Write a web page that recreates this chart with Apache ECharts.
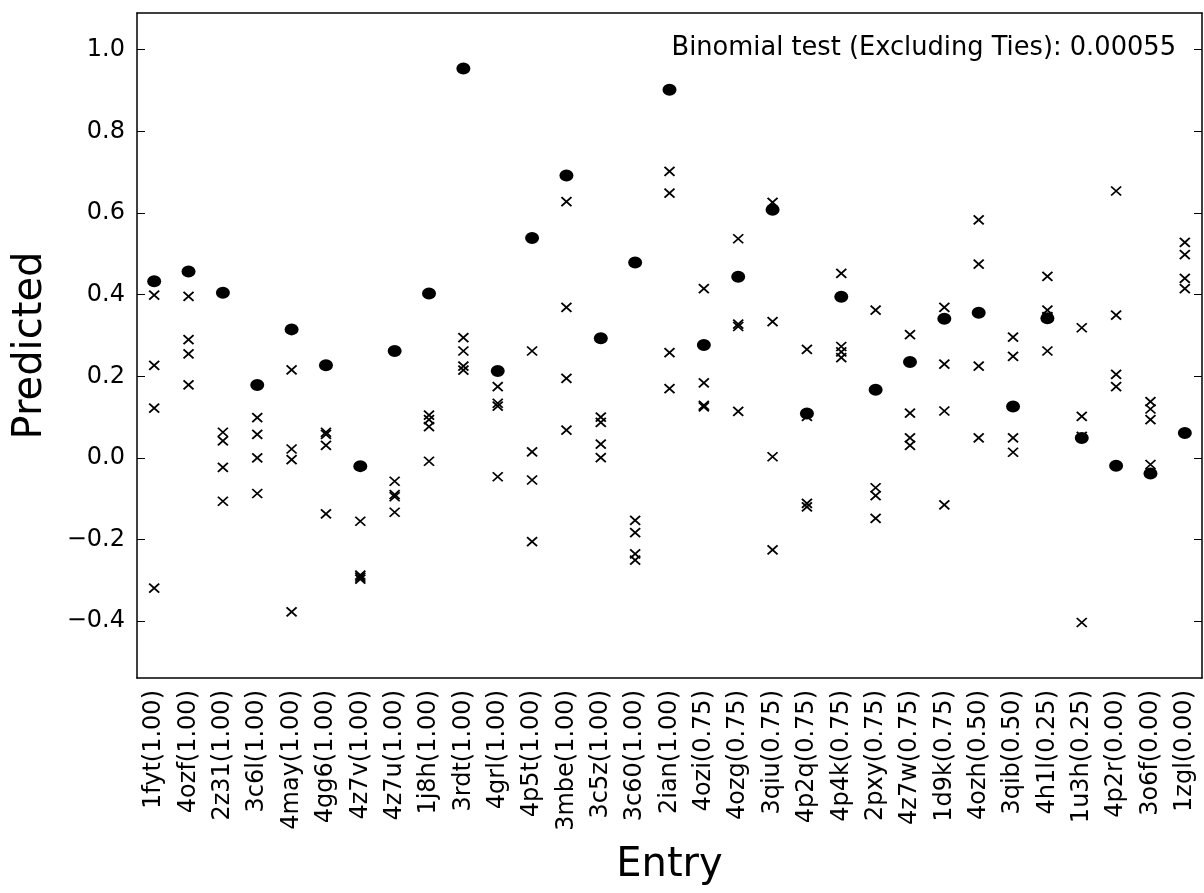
<!DOCTYPE html>
<html>
<head>
<meta charset="utf-8">
<title>Predicted per entry</title>
<script src="https://cdn.jsdelivr.net/npm/echarts@6/dist/echarts.min.js"></script>
<style>
  html, body { margin: 0; padding: 0; background: #fff; }
  #chart { width: 1204px; height: 893px; }
</style>
</head>
<body>
<div id="chart"></div>
<script>
const entries = [
  '1fyt(1.00)', '4ozf(1.00)', '2z31(1.00)', '3c6l(1.00)', '4may(1.00)', '4gg6(1.00)',
  '4z7v(1.00)', '4z7u(1.00)', '1j8h(1.00)', '3rdt(1.00)', '4grl(1.00)', '4p5t(1.00)',
  '3mbe(1.00)', '3c5z(1.00)', '3c60(1.00)', '2ian(1.00)', '4ozi(0.75)', '4ozg(0.75)',
  '3qiu(0.75)', '4p2q(0.75)', '4p4k(0.75)', '2pxy(0.75)', '4z7w(0.75)', '1d9k(0.75)',
  '4ozh(0.50)', '3qib(0.50)', '4h1l(0.25)', '1u3h(0.25)', '4p2r(0.00)', '3o6f(0.00)',
  '1zgl(0.00)'
];

// filled dots
const reference = [
  0.433, 0.457, 0.405, 0.179, 0.315, 0.227, -0.020, 0.262, 0.403, 0.954, 0.213, 0.539,
  0.692, 0.293, 0.479, 0.902, 0.277, 0.444, 0.608, 0.109, 0.395, 0.167, 0.235, 0.341,
  0.356, 0.126, 0.342, 0.049, -0.019, -0.038, 0.061
];

// the four crosses of each entry, highest to lowest
const crossA = [
  0.399, 0.396, 0.063, 0.099, 0.216, 0.063, -0.155, -0.057, 0.105, 0.295, 0.175, 0.262,
  0.628, 0.100, -0.153, 0.702, 0.415, 0.537, 0.626, 0.266, 0.452, 0.362, 0.302, 0.369,
  0.583, 0.296, 0.445, 0.319, 0.654, 0.138, 0.528
];
const crossB = [
  0.227, 0.290, 0.042, 0.058, 0.022, 0.058, -0.287, -0.090, 0.094, 0.262, 0.134, 0.015,
  0.369, 0.087, -0.183, 0.649, 0.184, 0.328, 0.334, 0.102, 0.273, -0.073, 0.110, 0.230,
  0.475, 0.249, 0.362, 0.102, 0.350, 0.120, 0.498
];
const crossC = [
  0.122, 0.255, -0.023, 0.000, -0.004, 0.031, -0.292, -0.095, 0.077, 0.225, 0.127, -0.054,
  0.195, 0.034, -0.235, 0.258, 0.129, 0.322, 0.003, -0.111, 0.260, -0.092, 0.049, 0.115,
  0.225, 0.049, 0.346, 0.053, 0.205, 0.094, 0.440
];
const crossD = [
  -0.319, 0.179, -0.106, -0.087, -0.377, -0.137, -0.297, -0.133, -0.008, 0.215, -0.046, -0.205,
  0.068, 0.001, -0.250, 0.170, 0.125, 0.114, -0.225, -0.120, 0.246, -0.148, 0.031, -0.115,
  0.049, 0.014, 0.262, -0.403, 0.175, -0.016, 0.415
];

const yTicks = [-0.4, -0.2, 0.0, 0.2, 0.4, 0.6, 0.8, 1.0];
const yMin = -0.539;
const yMax = 1.09;
const note = 'Binomial test (Excluding Ties): 0.00055';

const crossPoints = [];
entries.forEach((e, i) => {
  [crossA, crossB, crossC, crossD].forEach(arr => crossPoints.push([i, arr[i]]));
});

const font = 'DejaVu Sans';
const fmt = v => (v < 0 ? '\u2212' : '') + Math.abs(v).toFixed(1);

const myChart = echarts.init(document.getElementById('chart'));
const option = {
  animation: false,
  backgroundColor: '#fff',
  grid: { left: 137, right: 2, top: 13, bottom: 215 },
  graphic: [{
    type: 'text',
    x: 1176,
    y: 48,
    style: {
      text: note,
      align: 'right',
      verticalAlign: 'middle',
      fontFamily: font,
      fontSize: 25.7,
      fill: '#000'
    }
  }],
  xAxis: [{
    type: 'category',
    data: entries,
    name: 'Entry',
    nameLocation: 'middle',
    nameGap: 168,
    nameTextStyle: { fontFamily: font, fontSize: 40, color: '#000' },
    axisLine: { onZero: false, lineStyle: { color: '#000', width: 1.5 } },
    axisTick: { inside: true, alignWithLabel: true, length: 8, lineStyle: { color: '#000', width: 1 } },
    axisLabel: { rotate: 90, interval: 0, margin: 12, fontFamily: font, fontSize: 24, color: '#000' },
    splitLine: { show: false }
  }, {
    type: 'category',
    data: entries,
    position: 'top',
    axisLine: { onZero: false, lineStyle: { color: '#000', width: 1.5 } },
    axisTick: { inside: true, alignWithLabel: true, length: 8, lineStyle: { color: '#000', width: 1 } },
    axisLabel: { show: false },
    splitLine: { show: false }
  }],
  yAxis: [{
    type: 'value',
    min: yMin,
    max: yMax,
    name: 'Predicted',
    nameLocation: 'middle',
    nameRotate: 90,
    nameGap: 86,
    nameTextStyle: { fontFamily: font, fontSize: 40, color: '#000' },
    axisLine: { show: true, onZero: false, lineStyle: { color: '#000', width: 1.5 } },
    axisTick: { show: true, inside: true, length: 8, customValues: yTicks, lineStyle: { color: '#000', width: 1 } },
    axisLabel: { margin: 12, customValues: yTicks, formatter: fmt, fontFamily: font, fontSize: 24, color: '#000' },
    splitLine: { show: false }
  }, {
    type: 'value',
    min: yMin,
    max: yMax,
    position: 'right',
    axisLine: { show: true, onZero: false, lineStyle: { color: '#000', width: 1.5 } },
    axisTick: { show: true, inside: true, length: 8, customValues: yTicks, lineStyle: { color: '#000', width: 1 } },
    axisLabel: { show: false },
    splitLine: { show: false }
  }],
  series: [{
    name: 'reference',
    type: 'scatter',
    silent: true,
    symbol: 'circle',
    symbolSize: [14, 12],
    itemStyle: { color: '#000', opacity: 1 },
    data: reference
  }, {
    name: 'others',
    type: 'scatter',
    silent: true,
    symbol: 'path://M0,0L10,10M0,10L10,0',
    symbolKeepAspect: false,
    symbolSize: [10, 9],
    itemStyle: { color: 'rgba(0,0,0,0)', borderColor: '#000', borderWidth: 1.8, opacity: 1 },
    data: crossPoints
  }]
};
myChart.setOption(option);
</script>
</body>
</html>
